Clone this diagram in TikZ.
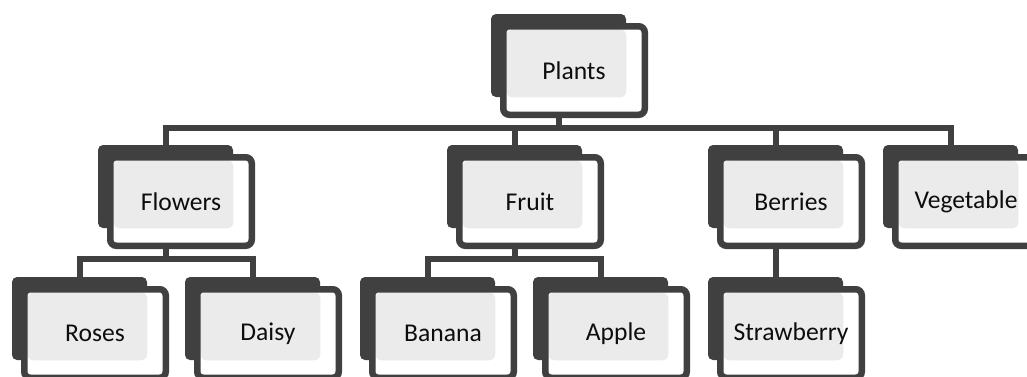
\documentclass[tikz,border=0pt]{standalone}
\usepackage{fontspec}
\setmainfont{Carlito}
\usetikzlibrary{positioning, calc, backgrounds}
\definecolor{boxDark}{HTML}{404040}
\definecolor{boxDots}{HTML}{EBEBEB}
\tikzset{
  backbox/.style={fill=boxDark, rounded corners=2.5pt, inner sep=0pt, outer sep=0pt,
                  minimum width=67.5pt, minimum height=41.5pt},
  frontbox/.style={draw=boxDark, line width=3.25pt, rounded corners=3pt, fill=white,
                   inner sep=0pt, outer sep=0pt, minimum width=70.75pt, minimum height=44.25pt,
                   font=\fontsize{12.8}{15}\selectfont, text=black!95,
                   path picture={\fill[boxDots] ($(path picture bounding box.north west)+(1.6pt,-1.6pt)$)
                                 rectangle ++(59.9pt,-33.9pt);}},
  link/.style={draw=boxDark, line width=3pt},
}

\begin{document}
\begin{tikzpicture}[x=0.5pt, y=-0.5pt]
\useasboundingbox (0,0) rectangle (1027,376);
\clip (0,0) rectangle (1027,376);
% top
\node[backbox] (plants-b) at (558.5,55.5) {};
\node[frontbox] (plants) at ($(plants-b)+(15.5,15)$) {Plants};
% second row
\node[backbox] (flowers-b) at (165.5,186.5) {};
\node[frontbox] (flowers) at ($(flowers-b)+(15.5,15)$) {Flowers};
\node[backbox] (fruit-b) at (514.5,186.5) {};
\node[frontbox] (fruit) at ($(fruit-b)+(15.5,15)$) {Fruit};
\node[backbox] (berries-b) at (775.5,186.5) {};
\node[frontbox] (berries) at ($(berries-b)+(15.5,15)$) {Berries};
\node[backbox] (vegetable-b) at (950.5,186.5) {};
\node[frontbox] (vegetable) at ($(vegetable-b)+(15.5,15)$) {Vegetable};
% third row
\node[backbox] (roses-b) at (79.5,318.5) {};
\node[frontbox] (roses) at ($(roses-b)+(15.5,15)$) {Roses};
\node[backbox] (daisy-b) at (252.5,318.5) {};
\node[frontbox] (daisy) at ($(daisy-b)+(15.5,15)$) {Daisy};
\node[backbox] (banana-b) at (427.5,318.5) {};
\node[frontbox] (banana) at ($(banana-b)+(15.5,15)$) {Banana};
\node[backbox] (apple-b) at (600.5,318.5) {};
\node[frontbox] (apple) at ($(apple-b)+(15.5,15)$) {Apple};
\node[backbox] (strawberry-b) at (775.5,318.5) {};
\node[frontbox] (strawberry) at ($(strawberry-b)+(15.5,15)$) {Strawberry};

% connectors
\coordinate (bar) at (0,128);
\coordinate (flowerbar) at (0,259);
\coordinate (fruitbar) at (0,259);
\begin{scope}[on background layer]
\draw[link] (flowers-b.north) |- (vegetable-b.north |- bar) -- (vegetable-b.north);
\draw[link] (plants-b |- plants.south) -- (plants-b |- bar);
\draw[link] (fruit-b.north) -- (fruit-b |- bar);
\draw[link] (berries-b.north) -- (berries-b |- bar);
\draw[link] (roses-b.north) |- (daisy-b.north |- flowerbar) -- (daisy-b.north);
\draw[link] (flowers-b |- flowers.south) -- (flowers-b |- flowerbar);
\draw[link] (banana-b.north) |- (apple-b.north |- fruitbar) -- (apple-b.north);
\draw[link] (fruit-b |- fruit.south) -- (fruit-b |- fruitbar);
\draw[link] (berries-b |- berries.south) -- (strawberry-b.north);
\end{scope}
\end{tikzpicture}
\end{document}
